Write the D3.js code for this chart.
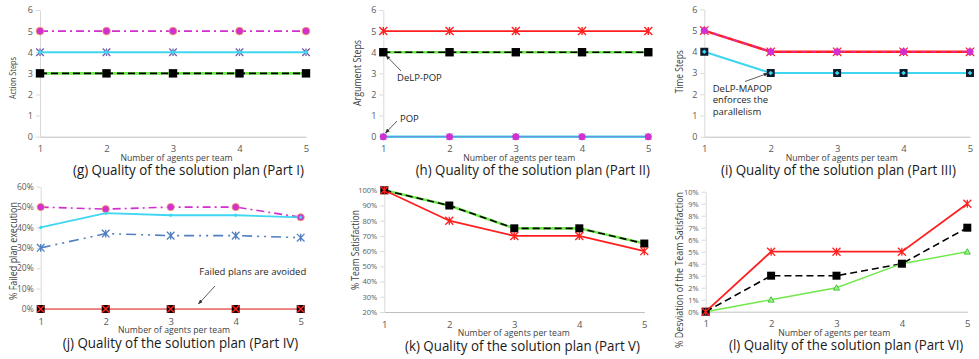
<!DOCTYPE html>
<html><head><meta charset="utf-8">
<script src="https://cdn.jsdelivr.net/npm/d3@7"></script>
<style>
body{margin:0;background:#fff;}
svg{display:block;}
text{font-family:"Open Sans","Liberation Sans",sans-serif;}
</style></head>
<body><svg id="c" width="979" height="359"></svg>
<script>
// ---------- data ----------
const agents = [1, 2, 3, 4, 5];

// (g) Action steps
const gMagenta = [5, 5, 5, 5, 5];
const gCyan    = [4, 4, 4, 4, 4];
const gBlue    = [4, 4, 4, 4, 4];
const gGreen   = [3, 3, 3, 3, 3];
const gBlack   = [3, 3, 3, 3, 3];
// (h) Argument steps
const hRed     = [5, 5, 5, 5, 5];
const hGreen   = [4, 4, 4, 4, 4];
const hBlack   = [4, 4, 4, 4, 4];
const hCyan    = [0, 0, 0, 0, 0];
const hMagenta = [0, 0, 0, 0, 0];
// (i) Time steps
const iRed     = [5, 4, 4, 4, 4];
const iMagenta = [5, 4, 4, 4, 4];
const iCyan    = [4, 3, 3, 3, 3];
const iBlack   = [4, 3, 3, 3, 3];
// (j) % failed plan execution
const jMagenta = [0.50, 0.49, 0.50, 0.50, 0.45];
const jCyan    = [0.40, 0.47, 0.46, 0.46, 0.45];
const jBlue    = [0.30, 0.37, 0.36, 0.36, 0.35];
const jRed     = [0, 0, 0, 0, 0];
// (k) % team satisfaction
const kGreen   = [1.00, 0.90, 0.75, 0.75, 0.65];
const kBlack   = [1.00, 0.90, 0.75, 0.75, 0.65];
const kRed     = [1.00, 0.80, 0.70, 0.70, 0.60];
// (l) % deviation of team satisfaction
const lRed     = [0, 0.05, 0.05, 0.05, 0.09];
const lBlack   = [0, 0.03, 0.03, 0.04, 0.07];
const lGreen   = [0, 0.01, 0.02, 0.04, 0.05];

const stepTicks = [0, 1, 2, 3, 4, 5, 6];
const jTicks = [0, 0.1, 0.2, 0.3, 0.4, 0.5, 0.6];
const kTicks = [0.2, 0.3, 0.4, 0.5, 0.6, 0.7, 0.8, 0.9, 1.0];
const lTicks = [0, 0.01, 0.02, 0.03, 0.04, 0.05, 0.06, 0.07, 0.08, 0.09, 0.10];

const titles = ["(g) Quality of the solution plan (Part I)", "(h) Quality of the solution plan (Part II)",
  "(i) Quality of the solution plan (Part III)", "(j) Quality of the solution plan (Part IV)",
  "(k) Quality of the solution plan (Part V)", "(l) Quality of the solution plan (Part VI)"];
const yLabels = ["Action Steps", "Argument Steps", "Time Steps", "% Failed plan execution",
  "% Team Satisfaction", "% Desviation of the Team  Satisfaction"];
const xLabel = "Number of agents per team";

// ---------- colours ----------
const C = {mag:"#d12fcf", cyan:"#3fd6f2", blue:"#4f7fc0", green:"#6fe84a", black:"#000", red:"#ff1f1f", lred:"#f26a6a", gray:"#595959"};

const svg = d3.select("#c");
const defs = svg.append("defs");
defs.append("marker").attr("id","arr").attr("viewBox","0 0 10 10").attr("refX",9).attr("refY",5)
  .attr("markerWidth",6).attr("markerHeight",6).attr("orient","auto")
  .append("path").attr("d","M0,1 L10,5 L0,9 z").attr("fill","#333");

function panel(cfg){
  const x = d3.scaleLinear().domain([1,5]).range([cfg.x0, cfg.x1]);
  const y = d3.scaleLinear().domain(cfg.yDom).range([cfg.yb, cfg.yt]);
  const g = svg.append("g");
  // y axis
  const ya = g.append("g").attr("transform",`translate(${cfg.x0},0)`)
    .call(d3.axisLeft(y).tickValues(cfg.ticks).tickSizeInner(4).tickSizeOuter(0).tickPadding(3).tickFormat(cfg.fmt));
  ya.select(".domain").attr("stroke","#d9d9d9");
  ya.selectAll(".tick line").attr("stroke","#d9d9d9");
  ya.selectAll("text").attr("fill",C.gray).style("font-size",cfg.tfs+"px").style("font-family","'Open Sans',sans-serif");
  // x axis
  const xa = g.append("g").attr("transform",`translate(0,${cfg.yb})`)
    .call(d3.axisBottom(x).tickValues(agents).tickSizeInner(0).tickSizeOuter(0).tickPadding(9).tickFormat(d3.format("d")));
  xa.select(".domain").attr("stroke","#bfbfbf").attr("stroke-width",1);
  xa.selectAll("text").attr("fill",C.gray).style("font-size","9.5px").style("font-family","'Open Sans',sans-serif");
  // labels
  g.append("text").attr("x",cfg.xlx-56).attr("y",cfg.yb+24).attr("textLength",112).attr("lengthAdjust","spacingAndGlyphs")
    .attr("fill","#404040").style("font-size","9.5px").text(xLabel);
  g.append("text").attr("transform",`translate(${cfg.ylx},${cfg.yly+cfg.ylen/2}) rotate(-90)`)
    .attr("textLength",cfg.ylen).attr("lengthAdjust","spacingAndGlyphs")
    .attr("dy","0.35em").attr("fill","#404040").style("font-size",cfg.yfs+"px").text(cfg.ylab);
  g.append("text").attr("x",cfg.t0).attr("y",cfg.yb+38.5).attr("textLength",cfg.t1-cfg.t0)
    .attr("lengthAdjust","spacingAndGlyphs").attr("fill","#1a1a1a").style("font-size","15px").text(cfg.title);
  return {x, y, g};
}

function line(p, vals, color, w, dash){
  const gen = d3.line().x((d,i)=>p.x(agents[i])).y(d=>p.y(d));
  p.g.append("path").datum(vals).attr("d",gen).attr("fill","none").attr("stroke",color)
    .attr("stroke-width",w).attr("stroke-dasharray",dash||null);
}
function markers(p, vals, type, opt){
  const s = p.g.append("g");
  vals.forEach((v,i)=>{
    const cx = p.x(agents[i]), cy = p.y(v);
    const r = opt.r;
    if(type==="circle"){
      s.append("circle").attr("cx",cx).attr("cy",cy).attr("r",r).attr("fill",opt.fill).attr("stroke",opt.stroke||"none").attr("stroke-width",0.8);
    } else if(type==="square"){
      s.append("rect").attr("x",cx-r).attr("y",cy-r).attr("width",2*r).attr("height",2*r).attr("fill",opt.fill).attr("stroke",opt.stroke||"none").attr("stroke-width",0.6);
    } else if(type==="star"){
      s.append("path").attr("d",`M${cx-r},${cy-r}L${cx+r},${cy+r}M${cx-r},${cy+r}L${cx+r},${cy-r}M${cx},${cy-r}L${cx},${cy+r}`)
        .attr("stroke",opt.stroke).attr("stroke-width",opt.sw||1.3).attr("fill","none");
    } else if(type==="x"){
      s.append("path").attr("d",`M${cx-r},${cy-r}L${cx+r},${cy+r}M${cx-r},${cy+r}L${cx+r},${cy-r}`)
        .attr("stroke",opt.stroke).attr("stroke-width",opt.sw||1.3).attr("fill","none");
    } else if(type==="diamond"){
      s.append("path").attr("d",`M${cx},${cy-r}L${cx+r},${cy}L${cx},${cy+r}L${cx-r},${cy}Z`).attr("fill",opt.fill);
    } else if(type==="tri"){
      s.append("path").attr("d",`M${cx},${cy-r}L${cx+r},${cy+r*0.8}L${cx-r},${cy+r*0.8}Z`).attr("fill",opt.fill).attr("stroke",opt.stroke).attr("stroke-width",1);
    }
  });
}
function note(p, lines, tx, ty, a, b){
  const t = p.g.append("text").attr("x",tx).attr("y",ty).attr("fill","#262626").style("font-size","9.5px");
  lines.forEach((l,i)=>t.append("tspan").attr("x",tx).attr("dy",i?11.5:0).text(l));
  p.g.append("line").attr("x1",a[0]).attr("y1",a[1]).attr("x2",b[0]).attr("y2",b[1])
    .attr("stroke","#333").attr("stroke-width",0.8).attr("marker-end","url(#arr)");
}

const intF = d3.format("d"), pctF = d3.format(".0%");

// (g)
let p = panel({x0:40,x1:306,yb:136.7,yt:10,yDom:[0,6],ticks:stepTicks,fmt:intF,tfs:9,xlx:176.5,ylx:13,yly:78,ylen:42,yfs:9.5,ylab:yLabels[0],t0:73,t1:304,title:titles[0]});
line(p,gMagenta,C.mag,1.6,"8,4,2,4");
line(p,gCyan,C.cyan,2.2);
line(p,gGreen,C.green,2.6);
line(p,gBlack,C.black,1.6,"7,4");
markers(p,gMagenta,"circle",{r:3.8,fill:C.mag,stroke:"#f29a5a"});
markers(p,gBlue,"star",{r:3.8,stroke:"#7a5aa8",sw:1.3});
markers(p,gCyan,"diamond",{r:2.6,fill:C.cyan});
markers(p,gBlack,"square",{r:4.2,fill:C.black});

// (h)
p = panel({x0:383.3,x1:648.3,yb:136.7,yt:10,yDom:[0,6],ticks:stepTicks,fmt:intF,tfs:9,xlx:519.2,ylx:356.7,yly:73,ylen:66,yfs:11,ylab:yLabels[1],t0:415.7,t1:650,title:titles[1]});
line(p,hRed,C.red,1.8);
line(p,hGreen,C.green,2.6);
line(p,hBlack,C.black,1.6,"7,4");
line(p,hCyan,C.cyan,2.4);
line(p,hMagenta,"#8a6fd0",0.8);
markers(p,hRed,"star",{r:4,stroke:C.red,sw:1.4});
markers(p,hBlack,"square",{r:4.2,fill:C.black});
markers(p,hCyan,"star",{r:3.5,stroke:"#8fa8c8",sw:1});
markers(p,hMagenta,"circle",{r:3.5,fill:C.mag});
note(p,["DeLP-POP"],397,81,[401,71],[386,55.5]);
note(p,["POP"],400,121.5,[397,121],[385.5,133]);

// (i)
p = panel({x0:704.3,x1:970,yb:136.7,yt:9.3,yDom:[0,6],ticks:stepTicks,fmt:intF,tfs:9,xlx:841.7,ylx:679.3,yly:71.7,ylen:43,yfs:10.5,ylab:yLabels[2],t0:721,t1:956,title:titles[2]});
line(p,iRed,C.red,2.4);
line(p,iMagenta,C.mag,1.2,"5,5");
line(p,iCyan,C.cyan,2);
markers(p,iRed,"star",{r:4.2,stroke:C.red,sw:1.2});
markers(p,iMagenta,"circle",{r:3.5,fill:C.mag});
markers(p,iBlack,"square",{r:4,fill:"#0d1a2a"});
markers(p,iCyan,"diamond",{r:2.3,fill:C.cyan});
note(p,["DeLP-MAPOP","enforces the","parallelism"],712.7,91.5,[745,81.5],[768,73.3]);

// (j)
p = panel({x0:40.7,x1:300.7,yb:309,yt:186.7,yDom:[0,0.6],ticks:jTicks,fmt:pctF,tfs:8.5,xlx:174,ylx:13.3,yly:251,ylen:98,yfs:10,ylab:yLabels[3],t0:62.7,t1:298.3,title:titles[3]});
line(p,jMagenta,C.mag,1.6,"8,4,2,4");
line(p,jCyan,C.cyan,1.8);
line(p,jBlue,C.blue,1.6,"10,5,2,5,2,5");
line(p,jRed,C.lred,1.6);
markers(p,jMagenta,"circle",{r:3.6,fill:C.mag,stroke:"#f29a5a"});
markers(p,jCyan,"diamond",{r:2,fill:C.cyan});
markers(p,jBlue,"star",{r:3.8,stroke:C.blue,sw:1.3});
markers(p,jRed,"square",{r:4,fill:"#1a0000"});
markers(p,jRed,"x",{r:3.5,stroke:C.red,sw:1.4});
note(p,["Failed plans are avoided"],199.3,274.5,[215,286],[198.5,304]);

// (k)
p = panel({x0:384.3,x1:644.3,yb:312,yt:190.3,yDom:[0.2,1.0],ticks:kTicks,fmt:pctF,tfs:7.5,xlx:513.8,ylx:355.7,yly:250,ylen:80,yfs:10,ylab:yLabels[4],t0:405,t1:640,title:titles[4]});
line(p,kGreen,C.green,2.6);
line(p,kBlack,C.black,1.6,"7,4");
line(p,kRed,C.red,1.8);
markers(p,kBlack,"square",{r:4,fill:C.black});
markers(p,kRed,"star",{r:4,stroke:C.red,sw:1.3});

// (l)
p = panel({x0:705.7,x1:967.3,yb:311.7,yt:191.7,yDom:[0,0.10],ticks:lTicks,fmt:pctF,tfs:7.5,xlx:834.2,ylx:679.3,yly:270,ylen:156,yfs:10.5,ylab:yLabels[5],t0:729,t1:963.3,title:titles[5]});
line(p,lRed,C.red,1.8);
line(p,lBlack,C.black,1.6,"7,4");
line(p,lGreen,C.green,1.4);
markers(p,lGreen,"tri",{r:3,fill:"#a8f08c",stroke:"#3cc83c"});
markers(p,lBlack,"square",{r:4,fill:C.black});
markers(p,lRed,"star",{r:4,stroke:C.red,sw:1.3});
</script></body></html>
